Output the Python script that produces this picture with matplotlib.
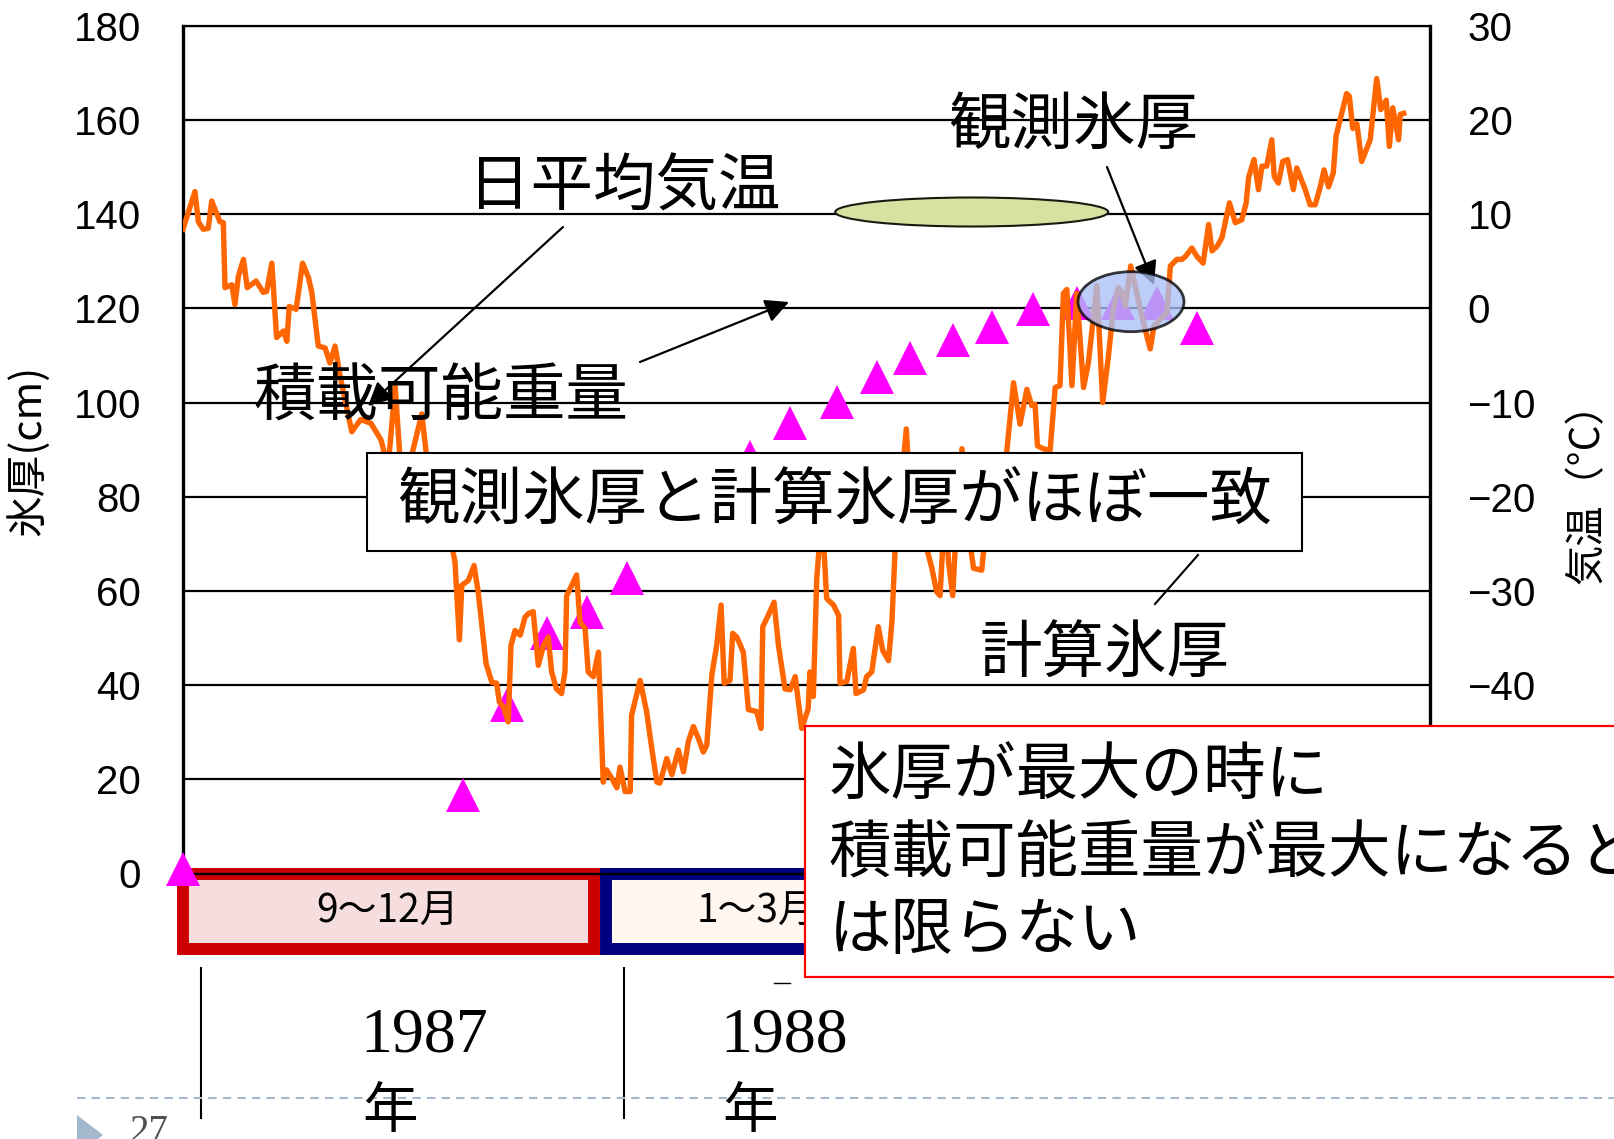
import matplotlib
matplotlib.use("Agg")
import matplotlib.pyplot as plt
from matplotlib.patches import Rectangle, Ellipse, Polygon, FancyArrowPatch
from matplotlib.lines import Line2D
from matplotlib.transforms import Affine2D

plt.rcParams['font.family'] = ['Noto Sans CJK JP', 'DejaVu Sans']

W, H = 1614, 1139

# daily mean air temperature (deg C), days counted from 1 Sep 1987
temp_day = [0.0, 3.5, 4.5, 5.9, 7.4, 8.4, 10.8, 11.8, 12.3, 14.3, 15.2, 16.2, 17.7, 18.8,
            21.4, 23.5, 24.5, 26.0, 27.4, 29.4, 30.4, 31.1, 33.1, 35.0, 36.7, 37.7, 39.6,
            41.6, 43.0, 44.5, 46.0, 49.4, 52.0, 55.0, 58.0, 60.0, 62.1, 64.0, 66.0, 69.9,
            72.0, 75.0, 78.0, 79.6, 80.9, 81.6, 83.5, 85.2, 86.4, 88.7, 90.4, 91.8, 92.6,
            93.8, 95.2, 96.0, 97.2, 98.7, 100.1, 101.1, 102.5, 104.0, 105.5, 106.9, 107.9,
            109.3, 110.8, 111.8, 112.3, 113.8, 115.2, 116.2, 117.7, 118.6, 120.1, 121.6,
            123.0, 124.0, 125.5, 127.0, 127.9, 129.4, 130.9, 131.3, 133.8, 135.7, 137.2,
            138.7, 139.6, 141.6, 143.1, 145.0, 146.5, 147.9, 149.4, 150.9, 152.3, 153.3,
            154.8, 156.2, 157.5, 158.4, 160.1, 160.9, 162.1, 164.0, 165.5, 167.9, 169.2,
            169.7, 171.3, 173.0, 174.3, 176.2, 177.7, 179.2, 181.1, 183.0, 183.5, 184.5,
            185.5, 187.0, 188.4, 190.4, 191.9, 192.3, 194.3, 196.2, 197.0, 199.2, 200.1,
            201.6, 203.5, 204.8, 206.5, 207.5, 208.4, 210.0, 211.7, 213.5, 215.5, 217.7,
            219.2, 220.6, 221.6, 223.0, 224.1, 225.3, 226.5, 228.0, 230.0, 231.4, 233.8,
            235.3, 238.0, 241.1, 243.1, 245.0, 247.0, 248.4, 249.4, 250.1, 251.8, 253.8,
            255.3, 256.7, 257.7, 258.7, 260.2, 261.6, 263.6, 265.0, 267.5, 269.2, 270.9,
            272.3, 273.8, 274.8, 275.8, 277.4, 279.2, 281.1, 283.1, 284.2, 287.0, 288.0,
            289.0, 290.9, 292.4, 293.4, 295.3, 296.8, 298.6, 300.2, 301.2, 302.7, 304.1,
            306.3, 308.0, 309.9, 311.2, 311.9, 313.5, 314.8, 315.8, 317.2, 318.7, 319.4,
            320.6, 321.9, 323.3, 325.0, 326.0, 328.5, 329.9, 331.4, 332.8, 334.0, 335.3,
            336.7, 337.5, 340.6, 341.4, 342.4, 343.6, 345.0, 347.5, 349.4, 350.6, 352.2,
            353.1, 354.1, 355.8, 356.3, 357.3]
temp_c = [8.4, 12.4, 9.2, 8.4, 8.5, 11.4, 9.2, 9.1, 2.2, 2.5, 0.4, 3.4, 5.2, 2.2,
          2.9, 1.7, 1.8, 4.8, -3.1, -2.4, -3.5, 0.2, -0.1, 4.8, 3.3, 1.7, -4.0,
          -4.2, -5.8, -4.0, -7.2, -13.1, -11.8, -12.2, -14.0, -17.0, -8.3, -18.5, -17.0, -11.2,
          -18.0, -21.0, -24.0, -26.9, -35.2, -29.4, -28.9, -27.3, -30.1, -37.7, -39.7, -39.8, -41.8,
          -42.3, -43.9, -35.8, -34.2, -34.7, -32.8, -32.4, -32.2, -37.9, -35.8, -34.9, -38.6,
          -40.4, -40.9, -38.6, -30.5, -29.4, -28.3, -33.3, -34.0, -38.6, -39.1, -36.5,
          -50.3, -49.0, -49.9, -50.9, -48.7, -51.3, -51.3, -43.2, -39.5, -42.8, -46.7,
          -50.3, -50.4, -47.8, -49.5, -46.9, -49.2, -46.0, -44.4, -45.7, -47.1, -46.4,
          -38.9, -35.8, -31.5, -39.8, -39.5, -34.5, -34.9, -36.5, -42.6, -42.8, -44.6,
          -33.8, -32.6, -31.2, -35.8, -40.4, -40.5, -39.1, -44.6, -42.5, -38.6, -41.2,
          -28.7, -21.5, -30.8, -31.5, -32.6, -39.8, -39.6, -36.1, -40.9, -40.5, -39.1,
          -38.6, -33.8, -36.3, -37.4, -33.3, -25.9, -20.0, -12.8, -24.0, -22.0, -25.5,
          -27.6, -30.1, -30.5, -21.0, -27.0, -30.5, -22.0, -14.9, -24.0, -27.6, -27.8,
          -22.0, -18.0, -15.3, -7.9, -12.3, -8.6, -10.3, -10.2, -14.6, -14.9, -15.1,
          -8.4, -8.2, 1.6, 2.0, -8.2, 1.6, -8.4, -5.8, 2.4, -10.0, -5.0,
          -0.1, 2.2, 1.7, 0.2, 4.5, 1.6, -1.5, -4.3, -1.9, -0.8, -0.5,
          4.5, 5.2, 5.2, 5.5, 6.4, 5.5, 4.8, 8.9, 6.1, 6.6, 7.5,
          11.2, 9.1, 9.4, 11.2, 13.9, 15.8, 12.6, 15.1, 15.1, 17.9, 14.0,
          13.3, 15.6, 15.8, 12.6, 14.9, 12.6, 11.0, 11.0, 12.8, 14.7, 12.9,
          14.4, 18.3, 22.8, 22.5, 19.1, 19.6, 15.6, 17.9, 24.4, 21.1, 22.1,
          17.2, 21.3, 17.9, 20.6, 20.7]

# observed ice thickness (cm)
obs_day = [0, 82, 94.8, 106.5, 118.2, 130.1, 166, 177.7, 191.3, 203.1, 212.8, 225.4,
           236.9, 248.8, 261.6, 273.8, 285, 296.7]
obs_cm = [1, 16.7, 35.8, 51, 55.6, 62.7, 88.5, 95.6, 100.2, 105.5, 109.4, 113.3,
          116, 119.8, 121.1, 121.1, 121.1, 115.9]

cm_ticks = list(range(0, 181, 20))
# lower temperature labels sit under the note box, only these show
temp_ticks = list(range(-40, 31, 10))

fig = plt.figure(figsize=(W / 100, H / 100), dpi=100)
fig.patch.set_facecolor('white')
# pixel coordinates, origin at top left
px = Affine2D().scale(1 / W, -1 / H).translate(0, 1) + fig.transFigure


def put_text(x, y, s, **kw):
    return fig.text(x / W, 1 - y / H, s, **kw)


ax = fig.add_axes([183 / W, 1 - 873.5 / H, (1430 - 183) / W, (873.5 - 25.8) / H])
ax.patch.set_visible(False)
ax2 = ax.twinx()
ax2.patch.set_visible(False)

ax.set_xlim(0, 365)
ax.set_ylim(0, 180)
ax2.set_ylim(-60, 30)
ax.set_xticks([])

ax.set_yticks(cm_ticks)
ax.set_yticklabels([str(v) for v in cm_ticks], fontfamily='Liberation Sans', fontsize=29)
ax.yaxis.grid(True, color='black', lw=1.6)
ax.tick_params(axis='y', length=0, pad=30)

ax2.set_yticks(temp_ticks)
ax2.set_yticklabels([str(v).replace('-', '\u2212') for v in temp_ticks],
                    fontfamily='Liberation Sans', fontsize=29)
ax2.tick_params(axis='y', length=0, pad=27)

for s in ['top', 'bottom']:
    ax.spines[s].set_linewidth(1.6)
ax.spines['left'].set_linewidth(2.4)
ax.spines['right'].set_visible(False)
for s in ['top', 'bottom', 'left']:
    ax2.spines[s].set_visible(False)
ax2.spines['right'].set_linewidth(2.4)

ax.plot(obs_day, obs_cm, ls='none', marker='^', ms=24, color='#ff00ff', mew=0,
        clip_on=False, zorder=5)
ax2.plot(temp_day, temp_c, color='#ff6600', lw=3.9)

fig.text(28 / W, 1 - 450 / H, '氷厚(cm)', rotation=90, fontsize=30, ha='center', va='center')
fig.text(1587 / W, 1 - 483 / H, '気温（°C）', rotation=90, fontsize=29, ha='center', va='center')

# month bars under the axis
fig.add_artist(Rectangle((606, 874), 299, 75, transform=px, facecolor='#fff6f0',
                         edgecolor='#000080', lw=8.6, zorder=-2))
fig.add_artist(Rectangle((183, 874), 411, 75, transform=px, facecolor='#f6dede',
                         edgecolor='#cc0000', lw=8.6, zorder=-1))
put_text(388, 912, '9～12月', fontsize=28, ha='center', va='center', zorder=-1)
put_text(757, 912, '1～3月', fontsize=28, ha='center', va='center', zorder=-1)

for x in [201, 624]:
    fig.add_artist(Line2D([x, x], [968, 1118], transform=px, color='black', lw=1.5))
fig.add_artist(Line2D([774, 790], [983, 983], transform=px, color='black', lw=1))
for x, yr in [(360, '1987'), (720, '1988')]:
    put_text(x, 1037, yr, fontfamily='Liberation Serif', fontsize=46, ha='left', va='center')
    put_text(x + 2, 1112, '年', fontsize=40, ha='left', va='center')

fig.add_artist(Line2D([77, W], [1098, 1098], transform=px, color='#a3b8cc', lw=1.5,
                      ls=(0, (4, 3))))
fig.add_artist(Polygon([[77, 1115], [103, 1135], [77, 1155]], closed=True, transform=px,
                       facecolor='#a3b8cc', edgecolor='none'))
put_text(129, 1114, '27', fontfamily='Liberation Serif', fontsize=28, color='#505050',
         ha='left', va='top')

# callouts
fig.add_artist(Ellipse((971.7, 212), 273, 29, transform=px, facecolor='#d6e3a0',
                       edgecolor='#1a1a10', lw=1.5))
fig.add_artist(Ellipse((1131, 301.7), 106, 60, transform=px, facecolor='#a9bff5',
                       edgecolor='black', lw=2, alpha=0.78, zorder=2))

arrow_kw = dict(transform=px, arrowstyle='-|>,head_length=0.9,head_width=0.45',
                mutation_scale=16, lw=1.6, color='black', shrinkA=0, shrinkB=0)
fig.add_artist(FancyArrowPatch((563, 227), (368, 406), **arrow_kw))
fig.add_artist(FancyArrowPatch((640, 362), (789, 302), **arrow_kw))
fig.add_artist(FancyArrowPatch((1107, 167), (1154, 285), **arrow_kw))
fig.add_artist(Line2D([1155, 1198], [604, 555], transform=px, color='black', lw=1.5))

put_text(624, 188, '日平均気温', fontsize=45, ha='center', va='center')
put_text(441, 398, '積載可能重量', fontsize=45, ha='center', va='center')
put_text(1073, 126, '観測氷厚', fontsize=45, ha='center', va='center')
put_text(1105, 655, '計算氷厚', fontsize=45, ha='center', va='center')

fig.add_artist(Rectangle((367, 453.3), 935, 97.7, transform=px, facecolor='white',
                         edgecolor='black', lw=1.5, zorder=3))
put_text(834.5, 502, '観測氷厚と計算氷厚がほぼ一致', fontsize=45, ha='center', va='center',
         zorder=4)

fig.add_artist(Rectangle((805, 725.7), 830, 251, transform=px, facecolor='white',
                         edgecolor='#ff0000', lw=1.6, zorder=3))
for y, line in [(775.5, '氷厚が最大の時に'), (855, '積載可能重量が最大になると'),
                (930.5, 'は限らない')]:
    put_text(829, y, line, fontsize=45, ha='left', va='center', zorder=4)

fig.savefig('out.png', dpi=100)
